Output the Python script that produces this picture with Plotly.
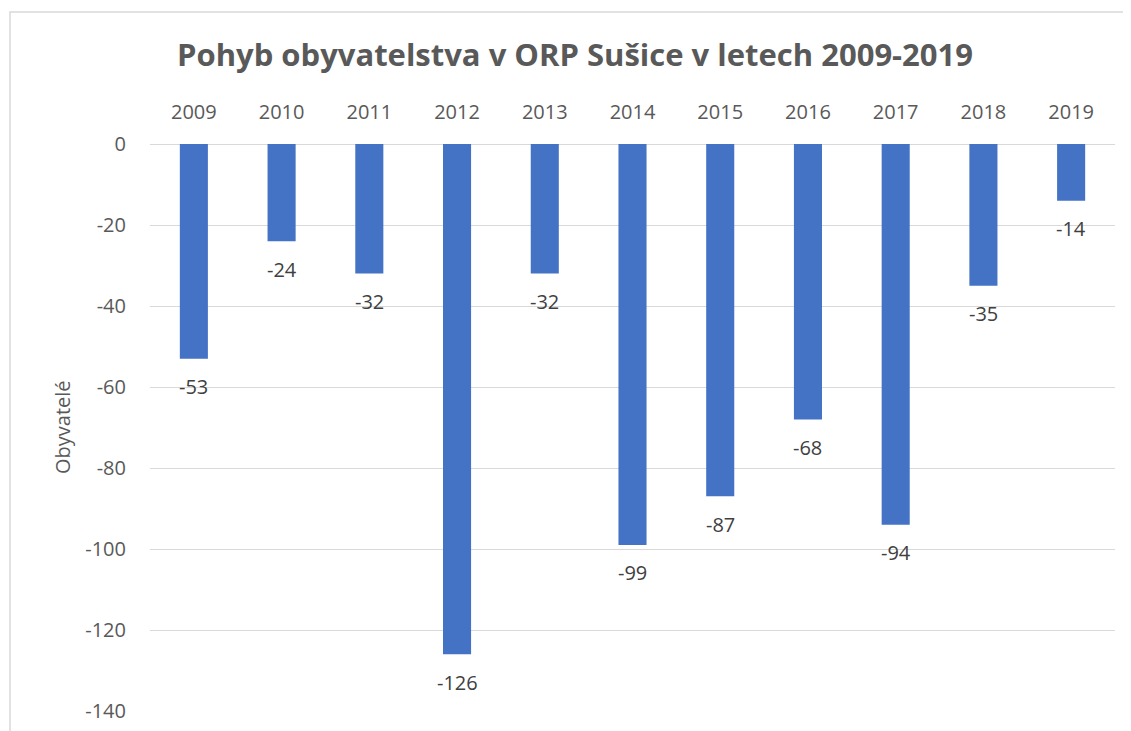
import plotly.graph_objects as go

years = ["2009", "2010", "2011", "2012", "2013", "2014", "2015", "2016", "2017", "2018", "2019"]
values = [-53, -24, -32, -126, -32, -99, -87, -68, -94, -35, -14]
y_ticks = [0, -20, -40, -60, -80, -100, -120, -140]
y_tick_labels = ["0", "-20", "-40", "-60", "-80", "-100", "-120", "-140"]

OFF = 8  # page body margin
W, H = 1131 - OFF, 731 - OFF
L, R, T, B = 150 - OFF, 16, 144 - OFF, 20
pw = W - L - R
ph = H - T - B

def px_x(p):
    return (p - OFF - L) / pw

def px_y(p):
    return (H - B - (p - OFF)) / ph

font = "Open Sans"
grey = "#595959"

fig = go.Figure()
fig.add_trace(go.Bar(
    x=years, y=values,
    marker=dict(color="#4472C4", line=dict(width=0)),
    width=0.32,
    hoverinfo="x+y",
))

for i, v in enumerate(values):
    fig.add_annotation(
        x=i, y=v, text=str(v), showarrow=False,
        yanchor="middle", yshift=-28,
        font=dict(family=font, size=20, color="#404040"),
    )

fig.add_annotation(
    xref="paper", yref="paper", x=px_x(62), y=px_y(427),
    text="Obyvatelé", textangle=-90, showarrow=False,
    xanchor="center", yanchor="middle",
    font=dict(family=font, size=20, color=grey),
)

fig.add_shape(
    type="rect", xref="paper", yref="paper",
    x0=px_x(10), x1=px_x(1145), y0=px_y(12), y1=px_y(750),
    line=dict(color="#d9d9d9", width=1.5), fillcolor="rgba(0,0,0,0)",
    layer="below",
)

fig.update_layout(
    width=W, height=H,
    margin=dict(l=L, r=R, t=T, b=B, autoexpand=False),
    paper_bgcolor="white", plot_bgcolor="white",
    showlegend=False,
    title=dict(
        text="<b>Pohyb obyvatelstva v ORP Sušice v letech 2009-2019</b>",
        x=(575 - OFF) / W, xanchor="center", xref="container",
        y=1 - (55 - OFF) / H, yanchor="middle",
        font=dict(family=font, size=31, color=grey),
    ),
    xaxis=dict(
        side="top", type="category",
        range=[-0.5, len(years) - 0.5],
        showgrid=False, showline=False, ticks="",
        tickfont=dict(family=font, size=20, color=grey),
        ticklabelstandoff=20,
    ),
    yaxis=dict(
        range=[-140, 0], tickvals=y_ticks, ticktext=y_tick_labels,
        showgrid=True, gridcolor="#d9d9d9", gridwidth=1,
        zeroline=True, zerolinecolor="#d9d9d9", zerolinewidth=1,
        showline=False, ticks="",
        tickfont=dict(family=font, size=20, color=grey),
        ticklabelstandoff=23,
    ),
)

fig.write_html("out.html")
